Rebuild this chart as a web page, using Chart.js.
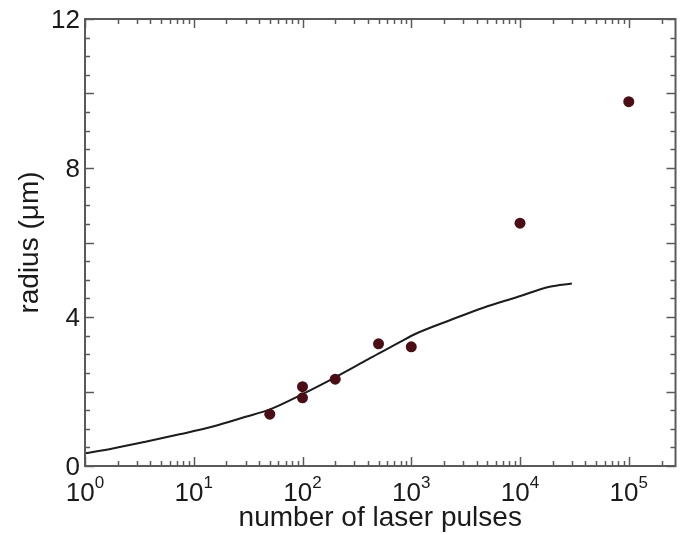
<!DOCTYPE html>
<html>
<head>
<meta charset="utf-8">
<script src="https://cdn.jsdelivr.net/npm/chart.js@4.4.0/dist/chart.umd.min.js"></script>
<style>
  html, body { margin: 0; padding: 0; background: #fff; }
  canvas { display: block; }
</style>
</head>
<body>
<canvas id="radiusChart" width="681" height="535"></canvas>
<script>
// measured craters
const pulses = [50, 100, 100, 200, 500, 1000, 10000, 100000];
const radii = [1.39, 2.13, 1.83, 2.33, 3.28, 3.20, 6.52, 9.78];

// model curve
const curvePulses = [1, 1.8, 3.6, 7.4, 15, 30, 50, 100, 200, 400, 800, 1100, 2300, 4600, 9300, 18700, 30000];
const curveRadii = [0.34, 0.47, 0.65, 0.85, 1.06, 1.32, 1.52, 1.93, 2.38, 2.86, 3.34, 3.55, 3.92, 4.25, 4.53, 4.81, 4.90];

// axis ticks
const xDecades = [0, 1, 2, 3, 4, 5];
const yLabels = [0, 4, 8, 12];
const xMin = 1, xMax = 269000;
const yMin = 0, yMax = 12;

const dotColor = '#4a0e16';
const frameColor = '#5a5a5a';
const textColor = '#1a1a1a';
const fontFamily = '"Liberation Sans", Arial, sans-serif';

function line(ctx, x1, y1, x2, y2) {
  ctx.beginPath();
  ctx.moveTo(x1, y1);
  ctx.lineTo(x2, y2);
  ctx.stroke();
}

// inward ticks, frame and the 10^n labels
const axisFrame = {
  id: 'axisFrame',
  afterDraw(chart) {
    const { ctx, chartArea: a, scales: { x, y } } = chart;
    ctx.save();
    ctx.strokeStyle = frameColor;
    ctx.lineWidth = 1.5;

    xDecades.forEach(d => {
      for (let k = 1; k <= 9; k++) {
        const v = k * Math.pow(10, d);
        if (v > xMax) break;
        const px = Math.round(x.getPixelForValue(v)) + 0.5;
        const len = k === 1 ? 9 : 5;
        line(ctx, px, a.bottom, px, a.bottom - len);
        line(ctx, px, a.top, px, a.top + len);
      }
    });
    for (let v = yMin; v <= yMax; v += 0.5) {
      const py = Math.round(y.getPixelForValue(v)) + 0.5;
      const len = v % 2 === 0 ? 9 : 5;
      line(ctx, a.left, py, a.left + len, py);
      line(ctx, a.right, py, a.right - len, py);
    }

    ctx.lineWidth = 2;
    ctx.strokeRect(a.left, a.top, a.right - a.left, a.bottom - a.top);

    ctx.fillStyle = textColor;
    ctx.font = '26px ' + fontFamily;
    ctx.textAlign = 'right';
    ctx.textBaseline = 'middle';
    yLabels.forEach(v => ctx.fillText(String(v), a.left - 5, y.getPixelForValue(v) + 2));

    const big = '26px ' + fontFamily;
    const small = '17px ' + fontFamily;
    ctx.textAlign = 'left';
    ctx.textBaseline = 'alphabetic';
    xDecades.forEach(d => {
      const px = x.getPixelForValue(Math.pow(10, d));
      ctx.font = big;
      const wb = ctx.measureText('10').width;
      ctx.font = small;
      const ws = ctx.measureText(String(d)).width;
      const x0 = px - (wb + ws) / 2;
      ctx.font = big;
      ctx.fillText('10', x0, a.bottom + 35);
      ctx.font = small;
      ctx.fillText(String(d), x0 + wb, a.bottom + 22);
    });
    ctx.restore();
  }
};

new Chart(document.getElementById('radiusChart'), {
  type: 'scatter',
  data: {
    datasets: [
      {
        type: 'scatter',
        data: pulses.map((p, i) => ({ x: p, y: radii[i] })),
        pointRadius: 5.5,
        backgroundColor: dotColor,
        borderColor: dotColor,
        borderWidth: 0,
        order: 0
      },
      {
        type: 'line',
        data: curvePulses.map((p, i) => ({ x: p, y: curveRadii[i] })),
        borderColor: '#1c1c1c',
        borderWidth: 2,
        pointRadius: 0,
        cubicInterpolationMode: 'monotone',
        fill: false,
        order: 1
      }
    ]
  },
  options: {
    responsive: false,
    animation: false,
    devicePixelRatio: 1,
    layout: { padding: { top: 19, right: 1, left: 0, bottom: 0 } },
    plugins: { legend: { display: false }, tooltip: { enabled: false } },
    scales: {
      x: {
        type: 'logarithmic',
        min: xMin,
        max: xMax,
        grid: { display: false },
        border: { display: false },
        ticks: { display: false },
        title: {
          display: true,
          text: 'number of laser pulses',
          color: textColor,
          font: { family: fontFamily, size: 28 },
          padding: { top: 0, bottom: 0 }
        },
        afterFit(s) { s.height = 69; }
      },
      y: {
        type: 'linear',
        min: yMin,
        max: yMax,
        grid: { display: false },
        border: { display: false },
        ticks: { display: false },
        title: {
          display: true,
          text: 'radius (μm)',
          color: textColor,
          font: { family: fontFamily, size: 28 },
          padding: { top: 13, bottom: 0 }
        },
        afterFit(s) { s.width = 85; }
      }
    }
  },
  plugins: [axisFrame]
});
</script>
</body>
</html>
